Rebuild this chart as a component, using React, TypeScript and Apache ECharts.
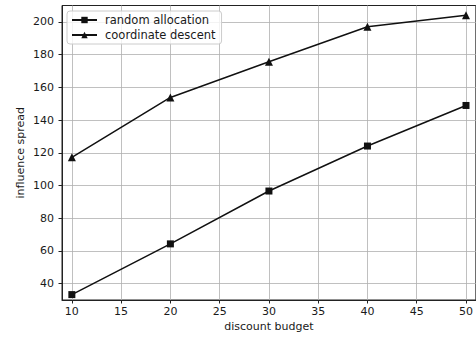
import React, { useEffect, useRef } from "react";
import * as echarts from "echarts";

const budgets = [10, 20, 30, 40, 50];
const randomAllocation = [33.3, 64.3, 96.6, 124.1, 148.9];
const coordinateDescent = [117.2, 153.8, 175.6, 197.0, 204.0];
const xTicks = [10, 15, 20, 25, 30, 35, 40, 45, 50];
const yTicks = [40, 60, 80, 100, 120, 140, 160, 180, 200];

const FONT = "DejaVu Sans";
const TEXT = "#1a1a1a";

export default function App() {
  const ref = useRef<HTMLDivElement>(null);
  useEffect(() => {
    if (!ref.current) return;
    const chart = echarts.init(ref.current, null, { renderer: "svg" });
    const mk = (arr: number[]) => budgets.map((b, i) => [b, arr[i]]);
    chart.setOption({
      animation: false,
      backgroundColor: "#ffffff",
      textStyle: { fontFamily: FONT },
      grid: {
        left: 62,
        top: 5.5,
        width: 420,
        height: 296,
        show: true,
        borderColor: "#222",
        borderWidth: 1,
        backgroundColor: "transparent",
      },
      legend: {
        orient: "vertical",
        left: 67,
        top: 11,
        itemWidth: 25,
        itemHeight: 8,
        itemGap: 3,
        padding: [3, 6, 3, 4],
        borderColor: "#cccccc",
        borderWidth: 1,
        borderRadius: 3,
        backgroundColor: "rgba(255,255,255,0.8)",
        textStyle: { fontFamily: FONT, fontSize: 11.5, color: TEXT, padding: [0, 0, 0, 3] },
        data: ["random allocation", "coordinate descent"],
      },
      xAxis: {
        type: "value",
        min: 9,
        max: 51,
        name: "discount budget",
        nameLocation: "middle",
        nameGap: 21,
        nameMoveOverlap: false,
        nameTextStyle: { fontFamily: FONT, fontSize: 11, color: TEXT, verticalAlign: "top" },
        axisLine: { show: true, onZero: false, lineStyle: { color: "#222", width: 1 } },
        axisTick: { show: true, length: 3.5, customValues: xTicks, lineStyle: { color: "#222" } },
        axisLabel: { customValues: xTicks, fontFamily: FONT, fontSize: 11, color: TEXT, margin: 6 },
        splitLine: { show: true, lineStyle: { color: "#b0b0b0", width: 0.8 } },
      },
      yAxis: {
        type: "value",
        min: 30,
        max: 210,
        name: "influence spread",
        nameLocation: "middle",
        nameGap: 36,
        nameMoveOverlap: false,
        nameTextStyle: { fontFamily: FONT, fontSize: 11, color: TEXT },
        axisLine: { show: true, onZero: false, lineStyle: { color: "#222", width: 1 } },
        axisTick: { show: true, length: 3.5, customValues: yTicks, lineStyle: { color: "#222" } },
        axisLabel: { customValues: yTicks, fontFamily: FONT, fontSize: 11, color: TEXT, margin: 8 },
        splitLine: { show: true, lineStyle: { color: "#b0b0b0", width: 0.8 } },
      },
      series: [
        {
          name: "random allocation",
          type: "line",
          data: mk(randomAllocation),
          symbol: "rect",
          symbolSize: 7,
          itemStyle: { color: "#111" },
          lineStyle: { color: "#111", width: 1.5 },
        },
        {
          name: "coordinate descent",
          type: "line",
          data: mk(coordinateDescent),
          symbol: "triangle",
          symbolSize: 8,
          itemStyle: { color: "#111" },
          lineStyle: { color: "#111", width: 1.5 },
        },
      ],
    });
    return () => chart.dispose();
  }, []);
  return (
    <div
      ref={ref}
      style={{ position: "fixed", left: 0, top: 0, width: 476, height: 337, background: "#fff" }}
    />
  );
}
